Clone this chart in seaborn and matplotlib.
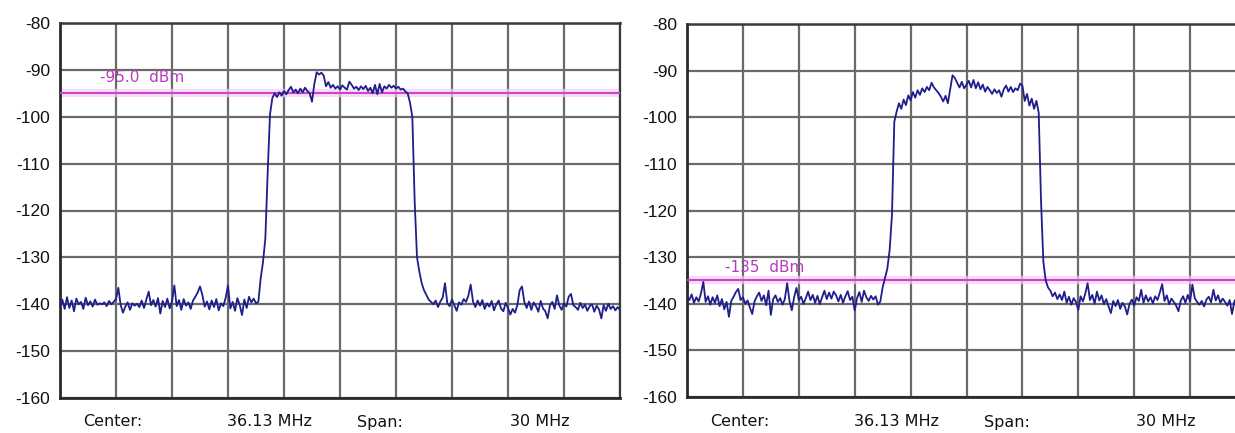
import numpy as np
import pandas as pd
import matplotlib
matplotlib.use("Agg")
import matplotlib.pyplot as plt
import matplotlib.transforms as mtransforms
import seaborn as sns

# ---------------- data ----------------
center_mhz = 36.13
span_mhz = 30.0
y_ticks = [-80, -90, -100, -110, -120, -130, -140, -150, -160]
marker_levels = [-95.0, -135.0]
marker_labels = ["-95.0  dBm", "-135  dBm"]
bottom_labels = ["Center:", "36.13 MHz", "Span:", "30 MHz"]

left_dbm = [
    # noise floor
    -140.5, -139, -141, -138.5, -140.8, -139.2, -141.5, -138.8, -140, -139.5,
    -141, -138.6, -140.2, -139.4, -140.5, -139, -140.1, -139.8, -140, -139.6,
    -140.4, -139.3, -140, -139.5, -138.9, -136.5, -140.2, -141.8, -140.5, -139.6,
    -141.2, -139.8, -140.3, -139.9, -140.6, -139.2, -140.8, -139, -137.3, -140.2,
    -139.1, -140.5, -138.7, -142, -139.3, -140.6, -138.8, -140.9, -139.4, -136,
    -140.4, -139.1, -141.2, -138.9, -140.3, -139.6, -141, -139.2, -138.4, -137.5,
    -136.2, -138, -140.5, -139.4, -141.1, -139.2, -140.6, -138.9, -141.3, -139.8,
    -140.4, -138.6, -136, -140.9, -139.5, -141.4, -138.7, -140.1, -142.3, -139,
    -140.8, -138.4, -139.6, -138.8, -139.8,
    # rising edge
    -139.5, -134.5, -131, -126, -112, -99.5,
    # channel top
    -96, -95, -95.8, -94.8, -95.5, -94.5, -95.2, -94.3, -93.6, -94.8,
    -94.2, -95, -94, -94.8, -93.8, -94.5, -95, -96.8, -93, -90.5,
    -91, -90.6, -91.2, -93.5, -92.6, -93.8, -93.2, -94, -93.5, -94.2,
    -93.3, -93.8, -94.2, -92.5, -93.2, -94, -93.6, -94.3, -93.5, -94.1,
    -93.4, -94.5, -93.8, -95, -93.2, -95.2, -93, -94.8, -93.5, -94,
    -93.2, -93.8, -93.4, -94, -93.6, -94.2, -94, -94.6,
    # falling edge
    -95, -97, -100, -118, -130, -133, -135.5, -137, -138, -139, -139.5,
    # noise floor
    -140, -139.2, -140.6, -139.4, -138.6, -135.5, -139.8, -140.4, -139, -140.2,
    -141.4, -139.6, -140.1, -138.9, -139.5, -138.2, -135.8, -139.4, -140.6, -139.2,
    -140.3, -139.1, -141, -139.8, -140.5, -139.3, -141.3, -140, -139.2, -140.9,
    -141.5, -139.7, -140.8, -142.2, -141, -141.8, -140.2, -137, -136.2, -139.5,
    -140.8, -139.4, -141.2, -139.6, -140.4, -141.6, -139.3, -140.9, -141.5, -143,
    -140.2, -139.5, -141, -138.1, -140.3, -141.2, -139.8, -140.5, -138.4, -137.8,
    -140.2, -140.6, -141.2, -139.7, -140.8, -140.1, -141.4, -140.4, -140, -141.6,
    -140.3, -141.1, -143, -140.2, -141.4, -139.9, -141, -140.4, -141.3, -140.6,
    -141.2,
]

right_dbm = [
    # noise floor
    -138.5, -139.2, -138, -139.8, -138.6, -139.5, -137.8, -135.3, -139.6, -138.4,
    -140.2, -138.6, -139.8, -138.2, -140.5, -139, -141.2, -139.6, -142.8, -139.4,
    -138.5, -137.5, -136.8, -139.2, -138.6, -140, -139.3, -140.8, -142.2, -139.5,
    -138.4, -137.6, -139.4, -138.2, -140.3, -137.2, -142.4, -139, -138.2, -139.6,
    -138.8, -140.2, -139, -135.6, -139.4, -141.4, -138.6, -136.6, -139.2, -138.5,
    -140, -138.8, -137.4, -139.2, -138.1, -139.8, -138.3, -140.1, -138.6, -137.2,
    -139, -137.6, -138.9, -137.4, -138.2, -139.5, -138.1, -139.8, -138.4, -137.3,
    -139.2, -138.5, -141.4, -138.8, -137.5, -139.6, -137.2, -138.6, -139.4, -138.3,
    -139.1, -138.4, -140.2,
    # rising edge
    -139.5, -136.5, -134.5, -132.5, -128.5, -121, -101, -98.8,
    # channel top
    -97, -98.2, -96.2, -97.4, -95.3, -96.4, -94.6, -95.8, -94.2, -95.2,
    -93.8, -94.6, -93.5, -94.2, -92.6, -93.6, -94.2, -94.8, -95.6, -96.6,
    -95.4, -97, -94, -91, -91.6, -92.6, -93.6, -92.4, -93.8, -93,
    -92.2, -93.6, -92, -93.8, -92.5, -94, -93, -94.5, -93.5, -94.2,
    -95, -94, -94.8, -94.2, -95.6, -94, -93.2, -94.5, -93.5, -94.6,
    -93.8, -94.2, -92.8, -93.2, -96.5, -95, -97.5, -96, -98.2, -96.5,
    # falling edge
    -99, -118, -131, -135, -136.5, -137.2, -138.4, -137.6, -139,
    # noise floor
    -138, -139.2, -137.4, -139.8, -138.5, -140.2, -138.8, -139.6, -141.3, -138.4,
    -139.5, -137.8, -135.6, -139.2, -138.1, -140, -137.4, -139.3, -138.2, -140.1,
    -139, -140.6, -142, -139.4, -140.5, -139.2, -141.1, -139.8, -140.6, -142.3,
    -140, -139.1, -140.4, -138.6, -139.4, -137, -139.8, -138.2, -139.5, -138.6,
    -139.9, -138.4, -139.2, -137.6, -135.8, -139.4, -138.2, -140.1, -138.9, -139.6,
    -140.4, -141.6, -139.3, -138.4, -139.8, -138.1, -139.5, -135.9, -138.8, -139.6,
    -140.2, -139.4, -140.6, -139.1, -138.5, -139.7, -137, -139.3, -138.2, -139.8,
    -138.9, -139.6, -140.4, -139.2, -142.2, -139.5, -138.7, -140.1, -139.3, -140.5,
    -139.8,
]

# ---------------- style ----------------
sns.set_style("white")
plt.rcParams["font.family"] = ["DejaVu Sans"]
plt.rcParams["axes.unicode_minus"] = False

W, H = 1235, 433
fig = plt.figure(figsize=(W / 100, H / 100), dpi=100)
fig.patch.set_facecolor("white")

trace_color = "#1e1e8c"
grid_color = "#6a6a6a"
marker_color = "#cc44cc"
marker_text_color = "#b43cbe"

f_start = center_mhz - span_mhz / 2
f_stop = center_mhz + span_mhz / 2

panels = [
    # (left px, bottom px, width px, height px)
    (60, 398, 560, 375, left_dbm, 0),
    (687, 397, 559, 373, right_dbm, 1),
]

for (lx, by, wpx, hpx, vals, k) in panels:
    ax = fig.add_axes([lx / W, (H - by) / H, wpx / W, hpx / H])
    freq = np.linspace(f_start, f_stop, len(vals))
    df = pd.DataFrame({"freq": freq, "dbm": vals})

    ax.set_xlim(f_start, f_stop)
    ax.set_ylim(-160, -80)

    xt = [f_start + span_mhz / 10 * j for j in range(11)]
    ax.set_xticks(xt)
    ax.set_xticklabels([])
    ax.set_yticks(y_ticks)
    ax.set_yticklabels([str(v) for v in y_ticks], fontsize=12.5,
                       family="Liberation Sans", color="#111111")
    ax.tick_params(axis="both", length=0, pad=7)
    ax.grid(True, color=grid_color, linewidth=1.6)
    ax.set_axisbelow(True)

    for side in ["left", "bottom"]:
        ax.spines[side].set_color("#2a2a2a")
        ax.spines[side].set_linewidth(2.0)
    ax.spines["top"].set_color("#3a3a3a")
    ax.spines["top"].set_linewidth(1.8)
    ax.spines["right"].set_color("#3a3a3a")
    ax.spines["right"].set_linewidth(1.6)

    # marker line with soft halo
    lvl = marker_levels[k]
    ax.axhline(lvl, color="#f4cdf4", linewidth=6, alpha=0.7, zorder=2)
    ax.axhline(lvl, color=marker_color, linewidth=1.5, zorder=3)

    sns.lineplot(data=df, x="freq", y="dbm", ax=ax, color=trace_color,
                 linewidth=1.3, estimator=None, sort=False, zorder=4)
    ax.set_xlabel("")
    ax.set_ylabel("")

    # marker label
    if k == 0:
        ax.text(0.071, -91.7, marker_labels[k], transform=mtransforms.blended_transform_factory(ax.transAxes, ax.transData),
                fontsize=11, color=marker_text_color, va="center", ha="left", zorder=5)
    else:
        ax.text(0.068, -132.2, marker_labels[k], transform=mtransforms.blended_transform_factory(ax.transAxes, ax.transData),
                fontsize=11, color=marker_text_color, va="center", ha="left", zorder=5)

    # bottom annotations
    tr = mtransforms.blended_transform_factory(ax.transAxes, fig.transFigure)
    xpos = [0.042, 0.298, 0.531, 0.804]
    for xp, lab in zip(xpos, bottom_labels):
        ax.text(xp, (H - 422) / H, lab, transform=tr, fontsize=11.5,
                color="#111111", va="center", ha="left")

fig.savefig("out.png", dpi=100, facecolor="white")
